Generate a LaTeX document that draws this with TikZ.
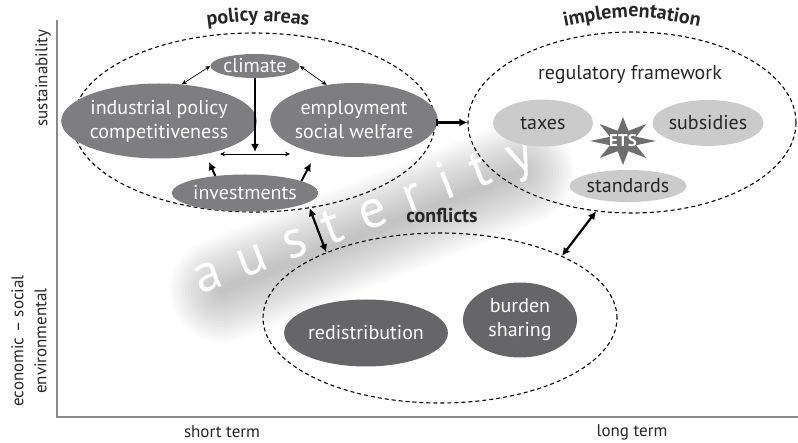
\documentclass[tikz,border=0pt]{standalone}
\usepackage{fontspec}
\setmainfont{PT Sans}
\usetikzlibrary{shapes.geometric,arrows.meta,decorations.text,calc}

\definecolor{blobmid}{HTML}{7E7E80}
\definecolor{blobdark}{HTML}{666668}
\definecolor{blobpale}{HTML}{CBCBCB}
\definecolor{stargray}{HTML}{6E6E6E}
\definecolor{ink}{HTML}{262626}
\definecolor{axisgray}{HTML}{8A8A8A}

\newcommand{\ausword}{a\hspace{20pt}u\hspace{20pt}s\hspace{20pt}t\hspace{20pt}e\hspace{20pt}r\hspace{20pt}i\hspace{20pt}t\hspace{20pt}y}

\begin{document}
\begin{tikzpicture}[x=1pt,y=-1pt,
  font=\fontsize{20}{24}\selectfont,
  groupring/.style={ellipse, draw=black, dash pattern=on 4pt off 3pt, line width=1.1pt, inner sep=0},
  midblob/.style={ellipse, fill=blobmid, text=white, inner sep=0, align=center},
  darkblob/.style={ellipse, fill=blobdark, text=white, inner sep=0, align=center},
  paleblob/.style={ellipse, fill=blobpale, text=ink, inner sep=0, align=center},
  thinlink/.style={{Stealth[length=5pt,width=4.5pt]}-{Stealth[length=5pt,width=4.5pt]}, line width=0.7pt},
  boldlink/.style={-{Latex[length=8pt,width=8pt]}, line width=2.4pt},
  boldboth/.style={{Latex[length=8pt,width=8pt]}-{Latex[length=8pt,width=8pt]}, line width=2.2pt},
  axislabel/.style={font=\fontsize{17}{23}\selectfont, text=ink, align=center},
  austext/.style={anchor=base west, rotate=21, inner sep=0, font=\fontsize{54}{60}\selectfont},
]
\useasboundingbox (0,0) rectangle (798,443);

% axes
\coordinate (axtop) at (57,20);
\coordinate (axorigin) at (57,417);
\coordinate (axright) at (798,417);
\draw[axisgray, line width=1.1pt] (axtop) -- (axorigin) -- (axright);

% watermark on a soft grey haze, the haze sitting a little below the letters
\coordinate (ausbase) at (200,295);
\coordinate (bandA) at (222,290);
\coordinate (bandB) at (522,172);
\foreach \w in {104,98,...,8}
  \draw[black, opacity=0.015, line width=\w pt, line cap=round] (bandA) -- (bandB);
\node[austext, text=white] (aus) at (ausbase) {\ausword};

% policy areas
\node[groupring, minimum width=362pt, minimum height=179pt] (pol) at (254,122.5) {};
\path[decorate, decoration={text along path, text align=center,
  text={|\bfseries\fontsize{20}{24}\selectfont\color{ink}|policy areas}}]
  (196,27) .. controls (258,19) .. (320,27);
\node[midblob, minimum width=86pt, minimum height=24pt] (clim) at (255,66) {climate};
\node[midblob, minimum width=156pt, minimum height=75pt] (ind) at (159,121) {industrial policy\\competitiveness};
\node[midblob, minimum width=158pt, minimum height=74pt] (emp) at (354,120) {employment\\social welfare};
\node[midblob, minimum width=125pt, minimum height=37pt] (inv) at (245,193) {investments};

\coordinate (vmid) at (255,152);
\coordinate (hl) at (220,154);
\coordinate (hr) at (290,154);
\coordinate (indfoot) at (209,162);
\coordinate (empfoot) at (311,163);
\draw[thinlink] (clim.west) -- (ind.58);
\draw[thinlink] (clim.east) -- (emp.128);
\draw[boldlink] (clim.south) -- (vmid);
\draw[thinlink] (hl) -- (hr);
\draw[boldlink, line width=2pt] (inv.150) -- (indfoot);
\draw[boldlink, line width=2pt] (inv.12) -- (empfoot);

% implementation
\node[groupring, minimum width=328pt, minimum height=181pt] (impl) at (632,122.5) {};
\path[decorate, decoration={text along path, text align=center,
  text={|\bfseries\fontsize{20}{24}\selectfont\color{ink}|implementation}}]
  (552,29) .. controls (632,13) .. (712,29);
\node[text=ink] (regfw) at (630,75) {regulatory framework};
\node[paleblob, minimum width=100pt, minimum height=47pt] (taxes) at (543,123) {taxes};
\node[paleblob, minimum width=100pt, minimum height=46pt] (subs) at (708,123) {subsidies};
\node[paleblob, minimum width=100pt, minimum height=32pt] (stand) at (628,186) {standards};
% eight-pointed star behind the ETS label
\coordinate (etsc) at (623,141);
\fill[stargray] ($(etsc)+(0:33 and 24)$)
  -- ($(etsc)+(22.5:14 and 11)$) -- ($(etsc)+(45:33 and 24)$)
  -- ($(etsc)+(67.5:14 and 11)$) -- ($(etsc)+(90:33 and 24)$)
  -- ($(etsc)+(112.5:14 and 11)$) -- ($(etsc)+(135:33 and 24)$)
  -- ($(etsc)+(157.5:14 and 11)$) -- ($(etsc)+(180:33 and 24)$)
  -- ($(etsc)+(202.5:14 and 11)$) -- ($(etsc)+(225:33 and 24)$)
  -- ($(etsc)+(247.5:14 and 11)$) -- ($(etsc)+(270:33 and 24)$)
  -- ($(etsc)+(292.5:14 and 11)$) -- ($(etsc)+(315:33 and 24)$)
  -- ($(etsc)+(337.5:14 and 11)$) -- cycle;
\node[text=white, font=\bfseries\fontsize{17}{19}\selectfont, inner sep=0] (ets) at (etsc) {ETS};

% conflicts
\node[groupring, minimum width=354pt, minimum height=170pt] (conf) at (440,318) {};
\node[text=ink, font=\bfseries\fontsize{20}{24}\selectfont] (conflabel) at (442,216) {conflicts};
\node[darkblob, minimum width=145pt, minimum height=67pt] (redis) at (366,333) {redistribution};
\node[darkblob, minimum width=114pt, minimum height=75pt] (burden) at (520,320) {burden\\sharing};

% links between the groups
\draw[{Bar[width=7pt]}-{Latex[length=8pt,width=8pt]}, line width=2.4pt] (pol) -- (impl);
\draw[boldboth] (pol.-57) -- (conf.150);
\draw[boldboth] (conf.27) -- (impl.248);

% axis labels
\node[axislabel, rotate=90] (sust) at (43,78) {sustainability};
\node[axislabel, rotate=90] (ecosoc) at (29,341) {economic – social\\environmental};
\node[axislabel] (short) at (222,432) {short term};
\node[axislabel] (long) at (632,432) {long term};
\end{tikzpicture}
\end{document}
